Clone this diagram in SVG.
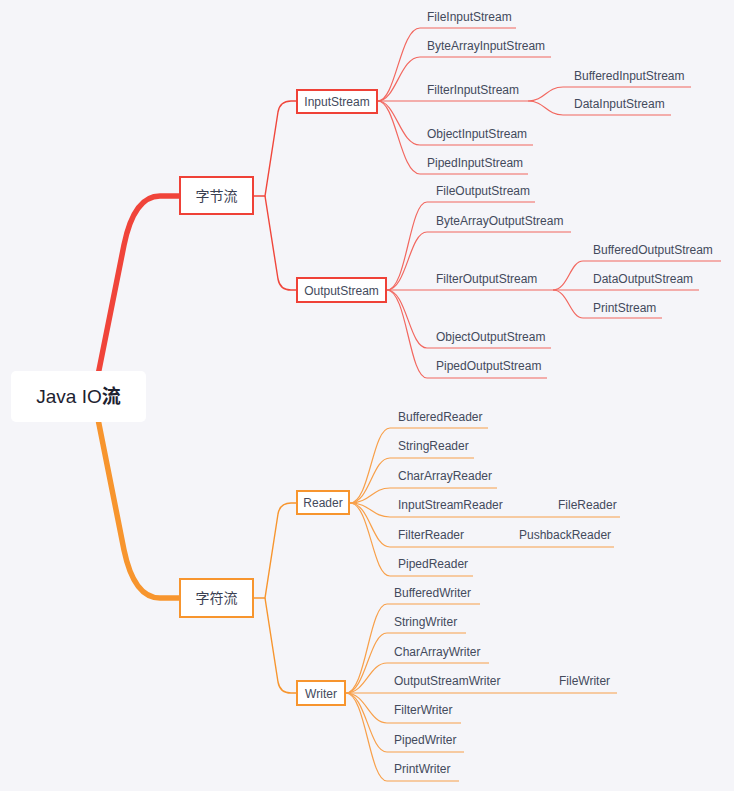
<svg xmlns="http://www.w3.org/2000/svg" width="734" height="791" viewBox="0 0 734 791">
<style>
.t{font-family:"Liberation Sans",Arial,sans-serif;font-size:12px;fill:#434a5c}
.c{font-family:"Noto Sans CJK SC",sans-serif;font-size:14px;fill:#3a4052}
.r{fill:none;stroke:#f0463b;stroke-width:1.4}
.rl{fill:none;stroke:#f2675f;stroke-width:1.2}
.o{fill:none;stroke:#f7952e;stroke-width:1.4}
.ol{fill:none;stroke:#f8a04a;stroke-width:1.2}
.rb{fill:#fff;stroke:#ef4137;stroke-width:2}
.ob{fill:#fff;stroke:#f7952e;stroke-width:2}
</style>
<rect width="734" height="791" fill="#f5f5f9"/>
<g id="connectors">
<path d="M97 380 L124 245 Q134 196 160 196 H182" fill="none" stroke="#f0443a" stroke-width="5.5" stroke-linecap="round"/>
<path d="M97 414 L124 550 Q134 598 160 598 H182" fill="none" stroke="#f7952e" stroke-width="5.5" stroke-linecap="round"/>
<path class="r" d="M253 196 H265 L278 112 Q280 101 291 101 H297"/>
<path class="r" d="M265 196 L278 279 Q280 290 291 290 H297"/>
<path class="o" d="M253 598 H265 L278 514 Q280 503 291 503 H297"/>
<path class="o" d="M265 598 L278 682 Q280 693 291 693 H297"/>
<path class="rl" d="M378 101 C396 101 400 28 420 28 H516"/>
<path class="rl" d="M378 101 C396 101 400 57 420 57 H551"/>
<path class="rl" d="M378 101 H528"/>
<path class="rl" d="M528 101 C545 101 546 87 563 87 H691"/>
<path class="rl" d="M528 101 C545 101 546 115 563 115 H671"/>
<path class="rl" d="M378 101 C396 101 400 145 420 145 H533"/>
<path class="rl" d="M378 101 C396 101 400 174 420 174 H528"/>
<path class="rl" d="M387 290 C407 290 409 202 427 202 H535"/>
<path class="rl" d="M387 290 C407 290 409 232 427 232 H571"/>
<path class="rl" d="M387 290 H699"/>
<path class="rl" d="M553 290 C568 290 570 261 583 261 H721"/>
<path class="rl" d="M553 290 C568 290 570 318 583 318 H662"/>
<path class="rl" d="M387 290 C407 290 409 348 427 348 H551"/>
<path class="rl" d="M387 290 C407 290 409 378 427 378 H547"/>
<path class="ol" d="M350 503 C370 503 372 428 390 428 H488"/>
<path class="ol" d="M350 503 C370 503 372 458 390 458 H474"/>
<path class="ol" d="M350 503 C370 503 372 488 390 488 H497"/>
<path class="ol" d="M350 503 C370 503 372 517 390 517 H620"/>
<path class="ol" d="M350 503 C370 503 372 547 390 547 H614"/>
<path class="ol" d="M350 503 C370 503 372 576 390 576 H473"/>
<path class="ol" d="M346 693 C366 693 369 604 387 604 H480"/>
<path class="ol" d="M346 693 C366 693 369 633 387 633 H466"/>
<path class="ol" d="M346 693 C366 693 369 663 387 663 H489"/>
<path class="ol" d="M346 693 H617"/>
<path class="ol" d="M346 693 C366 693 369 723 387 723 H461"/>
<path class="ol" d="M346 693 C366 693 369 752 387 752 H464"/>
<path class="ol" d="M346 693 C366 693 369 781 387 781 H459"/>
</g>
<g id="root">
<rect x="11" y="371" width="135" height="51" rx="5" fill="#fff"/>
<text x="78.5" y="403" text-anchor="middle" font-family="'Liberation Sans','Noto Sans CJK SC',sans-serif" font-size="19" fill="#1d2230">Java IO<tspan font-family="'Noto Sans CJK SC',sans-serif" font-weight="bold">流</tspan></text>
</g>
<g id="byte"><rect class="rb" x="180" y="177" width="73" height="37"/><text class="c" x="216.5" y="200.5" text-anchor="middle">字节流</text></g>
<g id="char"><rect class="ob" x="180" y="579" width="73" height="38"/><text class="c" x="216.5" y="603" text-anchor="middle">字符流</text></g>
<g id="InputStream"><rect class="rb" x="297" y="90" width="80" height="23"/><text class="t" x="337" y="105.5" text-anchor="middle">InputStream</text></g>
<g id="OutputStream"><rect class="rb" x="297" y="278" width="89" height="24"/><text class="t" x="341.5" y="294.5" text-anchor="middle">OutputStream</text></g>
<g id="Reader"><rect class="ob" x="297" y="491" width="52" height="23"/><text class="t" x="323" y="506.5" text-anchor="middle">Reader</text></g>
<g id="Writer"><rect class="ob" x="297" y="681" width="48" height="24"/><text class="t" x="321" y="697.5" text-anchor="middle">Writer</text></g>
<g id="FileInputStream"><text class="t" x="427" y="21">FileInputStream</text></g>
<g id="ByteArrayInputStream"><text class="t" x="427" y="50">ByteArrayInputStream</text></g>
<g id="FilterInputStream"><text class="t" x="427" y="94">FilterInputStream</text></g>
<g id="BufferedInputStream"><text class="t" x="574" y="80">BufferedInputStream</text></g>
<g id="DataInputStream"><text class="t" x="574" y="108">DataInputStream</text></g>
<g id="ObjectInputStream"><text class="t" x="427" y="138">ObjectInputStream</text></g>
<g id="PipedInputStream"><text class="t" x="427" y="167">PipedInputStream</text></g>
<g id="FileOutputStream"><text class="t" x="436" y="195">FileOutputStream</text></g>
<g id="ByteArrayOutputStream"><text class="t" x="436" y="225">ByteArrayOutputStream</text></g>
<g id="FilterOutputStream"><text class="t" x="436" y="283">FilterOutputStream</text></g>
<g id="BufferedOutputStream"><text class="t" x="593" y="254">BufferedOutputStream</text></g>
<g id="DataOutputStream"><text class="t" x="593" y="283">DataOutputStream</text></g>
<g id="PrintStream"><text class="t" x="593" y="312">PrintStream</text></g>
<g id="ObjectOutputStream"><text class="t" x="436" y="341">ObjectOutputStream</text></g>
<g id="PipedOutputStream"><text class="t" x="436" y="370">PipedOutputStream</text></g>
<g id="BufferedReader"><text class="t" x="398" y="421">BufferedReader</text></g>
<g id="StringReader"><text class="t" x="398" y="450">StringReader</text></g>
<g id="CharArrayReader"><text class="t" x="398" y="480">CharArrayReader</text></g>
<g id="InputStreamReader"><text class="t" x="398" y="509">InputStreamReader</text></g>
<g id="FileReader"><text class="t" x="558" y="509">FileReader</text></g>
<g id="FilterReader"><text class="t" x="398" y="539">FilterReader</text></g>
<g id="PushbackReader"><text class="t" x="519" y="539">PushbackReader</text></g>
<g id="PipedReader"><text class="t" x="398" y="568">PipedReader</text></g>
<g id="BufferedWriter"><text class="t" x="394" y="597">BufferedWriter</text></g>
<g id="StringWriter"><text class="t" x="394" y="626">StringWriter</text></g>
<g id="CharArrayWriter"><text class="t" x="394" y="656">CharArrayWriter</text></g>
<g id="OutputStreamWriter"><text class="t" x="394" y="685">OutputStreamWriter</text></g>
<g id="FileWriter"><text class="t" x="559" y="685">FileWriter</text></g>
<g id="FilterWriter"><text class="t" x="394" y="714">FilterWriter</text></g>
<g id="PipedWriter"><text class="t" x="394" y="744">PipedWriter</text></g>
<g id="PrintWriter"><text class="t" x="394" y="773">PrintWriter</text></g>
</svg>
